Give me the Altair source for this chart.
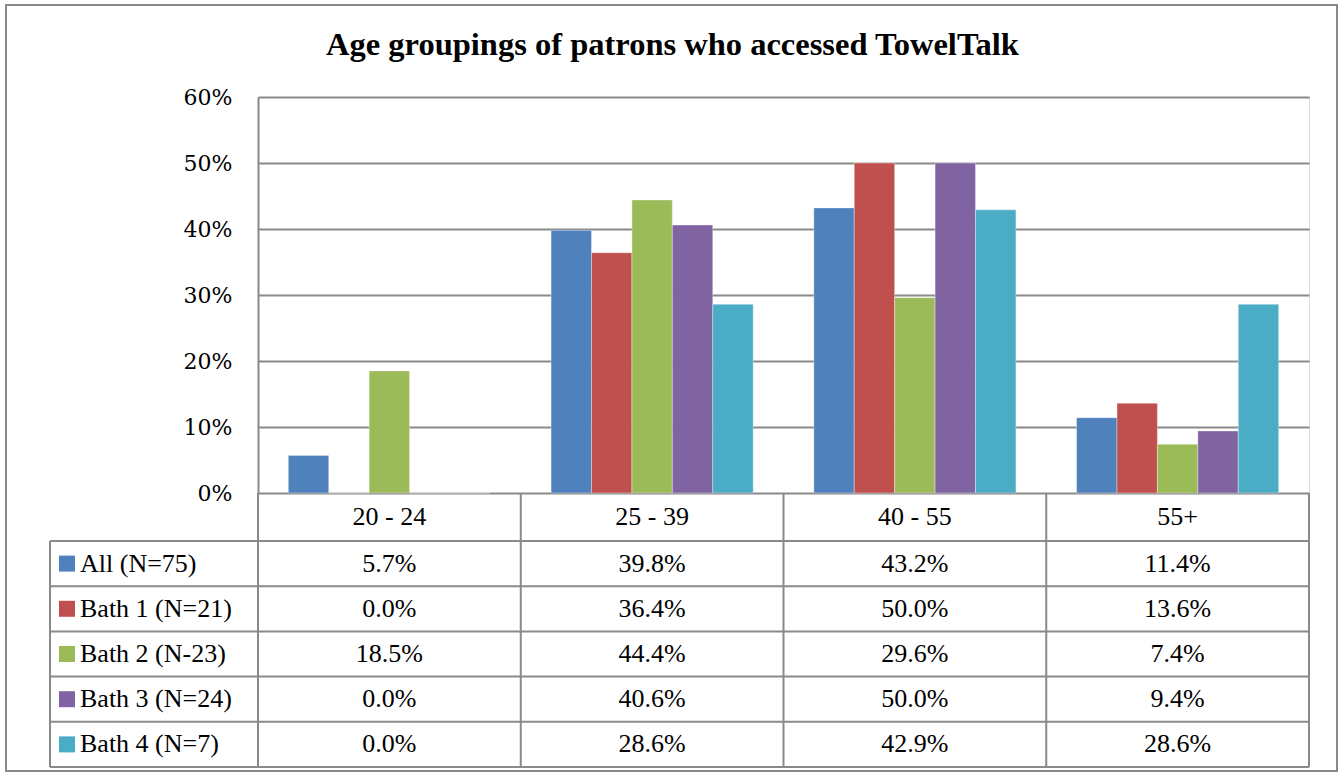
import altair as alt
import pandas as pd

# Age groups (columns of the data table) and the series shown as bars/rows
ages = ["20 - 24", "25 - 39", "40 - 55", "55+"]
series = ["All (N=75)", "Bath 1 (N=21)", "Bath 2 (N-23)", "Bath 3 (N=24)", "Bath 4 (N=7)"]
colors = ["#4F81BD", "#C0504D", "#9BBB59", "#8064A2", "#4BACC6"]

# Share of patrons in each age group, per series
all_vals = [0.057, 0.398, 0.432, 0.114]
bath1_vals = [0.000, 0.364, 0.500, 0.136]
bath2_vals = [0.185, 0.444, 0.296, 0.074]
bath3_vals = [0.000, 0.406, 0.500, 0.094]
bath4_vals = [0.000, 0.286, 0.429, 0.286]

y_ticks = [0, 0.1, 0.2, 0.3, 0.4, 0.5, 0.6]

rows = []
for name, vals in zip(series, [all_vals, bath1_vals, bath2_vals, bath3_vals, bath4_vals]):
    for age, v in zip(ages, vals):
        rows.append({"age": age, "series": name, "value": v})
df = pd.DataFrame(rows)
ages_df = pd.DataFrame({"age": ages})
series_df = pd.DataFrame({"series": series})

# Layout (pixels inside the plot group)
W = 1051            # width of the plot / table value columns
PLOT_H = 396        # height of the bar area
HEAD_BOTTOM = 444   # bottom of the header row
TABLE_BOTTOM = 670  # bottom of the data table
LEG_LEFT = -208     # left edge of the legend column

SERIF = "Liberation Serif"
LINE = "#8a8a8a"

x_enc = alt.X("age:N", scale=alt.Scale(domain=ages, paddingInner=0, paddingOuter=0), axis=None)
row_scale = alt.Scale(type="band", domain=series, range=[HEAD_BOTTOM, TABLE_BOTTOM],
                      paddingInner=0, paddingOuter=0)
color_enc = alt.Color("series:N", scale=alt.Scale(domain=series, range=colors), legend=None)

bars = alt.Chart(df).mark_bar(stroke="white", strokeOpacity=0.35, strokeWidth=1).encode(
    x=x_enc,
    xOffset=alt.XOffset("series:N", scale=alt.Scale(domain=series, paddingInner=0, paddingOuter=0.75)),
    y=alt.Y("value:Q",
            scale=alt.Scale(domain=[0, 0.6], range=[PLOT_H, 0], nice=False),
            axis=alt.Axis(values=y_ticks, format=".0%", title=None, grid=True,
                          gridColor=LINE, gridWidth=2, domainColor=LINE, domainWidth=2,
                          ticks=False, labelPadding=26, labelFont="DejaVu Serif",
                          labelFontSize=22, labelColor="black")),
    color=color_enc,
)

header = alt.Chart(ages_df).mark_text(font=SERIF, fontSize=26, color="black").encode(
    x=alt.X("age:N"),
    y=alt.value((PLOT_H + HEAD_BOTTOM) / 2),
    text="age:N",
)

cells = alt.Chart(df).mark_text(font=SERIF, fontSize=26, color="black").encode(
    x=alt.X("age:N"),
    y=alt.Y("series:N", scale=row_scale, axis=None),
    text=alt.Text("value:Q", format=".1%"),
)

legend_text = alt.Chart(series_df).mark_text(font=SERIF, fontSize=26, color="black", align="left").encode(
    x=alt.value(-178),
    y=alt.Y("series:N", scale=row_scale, axis=None),
    text="series:N",
)

legend_keys = alt.Chart(series_df).mark_square(size=256, opacity=1, shape="square").encode(
    x=alt.value(-191),
    y=alt.Y("series:N", scale=row_scale, axis=None),
    color=color_enc,
)

row_lines = alt.Chart(series_df).mark_rule(color=LINE, strokeWidth=2).encode(
    y=alt.Y("series:N", scale=row_scale, axis=None, bandPosition=0),
    x=alt.value(LEG_LEFT),
    x2=alt.value(W),
)

table_bottom = alt.Chart(alt.Data(values=[{}])).mark_rule(color=LINE, strokeWidth=2).encode(
    y=alt.value(TABLE_BOTTOM), x=alt.value(LEG_LEFT), x2=alt.value(W),
)

col_lines = alt.Chart(ages_df).mark_rule(color=LINE, strokeWidth=2).encode(
    x=alt.X("age:N", bandPosition=0),
    y=alt.value(PLOT_H),
    y2=alt.value(TABLE_BOTTOM),
)

right_edge = alt.Chart(alt.Data(values=[{}])).mark_rule(color=LINE, strokeWidth=2).encode(
    x=alt.value(W), y=alt.value(PLOT_H), y2=alt.value(TABLE_BOTTOM),
)

left_edge = alt.Chart(alt.Data(values=[{}])).mark_rule(color=LINE, strokeWidth=2).encode(
    x=alt.value(LEG_LEFT), y=alt.value(HEAD_BOTTOM), y2=alt.value(TABLE_BOTTOM),
)

frame = alt.Chart(alt.Data(values=[{}])).mark_rect(filled=False, stroke=LINE, strokeWidth=2).encode(
    x=alt.value(-252), x2=alt.value(1079), y=alt.value(-92), y2=alt.value(674),
)

chart = alt.layer(
    frame, bars, header, cells, row_lines, table_bottom, col_lines, right_edge, left_edge,
    legend_keys, legend_text,
).resolve_scale(
    y="independent"
).properties(
    width=W,
    height=TABLE_BOTTOM,
    padding={"left": 258, "top": 97, "right": 30, "bottom": 9},
    autosize=alt.AutoSizeParams(type="none"),
    title=alt.TitleParams(
        "Age groupings of patrons who accessed TowelTalk",
        font=SERIF, fontSize=32.5, fontWeight="bold", color="black",
        anchor="middle", frame="group", dx=-111, baseline="alphabetic", offset=-83,
    ),
).configure_view(strokeWidth=0).configure(background="white")

chart.save("out.html", embed_options={"renderer": "svg", "actions": False})
